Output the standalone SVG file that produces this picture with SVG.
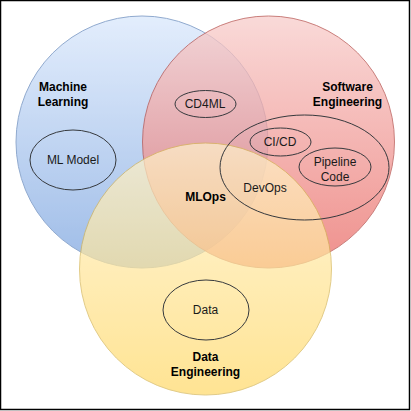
<svg xmlns="http://www.w3.org/2000/svg" width="411" height="411" viewBox="0 0 411 411">
<defs>
<linearGradient id="gBlue" x1="0" y1="0" x2="0" y2="1"><stop offset="0" stop-color="#dae8fc"/><stop offset="1" stop-color="#7ea6e0"/></linearGradient>
<linearGradient id="gRed" x1="0" y1="0" x2="0" y2="1"><stop offset="0" stop-color="#f8cecc"/><stop offset="1" stop-color="#ea6b66"/></linearGradient>
<linearGradient id="gYel" x1="0" y1="0" x2="0" y2="1"><stop offset="0" stop-color="#fff2cc"/><stop offset="1" stop-color="#ffd966"/></linearGradient>
<style>
text{font-family:"Liberation Sans",Arial,Helvetica,sans-serif;font-size:12px;text-anchor:middle;fill:#000}
.b{font-weight:bold}
.inner{fill:none;stroke:#36393d;stroke-width:1}
.in{fill:#1a1a1a}
</style>
</defs>
<rect x="0.5" y="0.5" width="409" height="409" fill="#fff" stroke="#000" stroke-width="1.5"/>
<g id="ml-circle"><circle cx="142" cy="142" r="126" fill="url(#gBlue)" stroke="#6c8ebf" opacity="0.75"/></g>
<g id="se-circle"><circle cx="268.5" cy="142" r="126" fill="url(#gRed)" stroke="#b85450" opacity="0.75"/></g>
<g id="de-circle"><circle cx="205.5" cy="269" r="126" fill="url(#gYel)" stroke="#d6b656" opacity="0.7"/></g>
<g id="ml-label"><text class="b" x="63" y="91">Machine</text><text class="b" x="63" y="106">Learning</text></g>
<g id="se-label"><text class="b" x="347.5" y="91">Software</text><text class="b" x="347.5" y="106">Engineering</text></g>
<g id="de-label"><text class="b" x="205.5" y="361">Data</text><text class="b" x="205.5" y="376">Engineering</text></g>
<g id="mlops"><text class="b" x="205.5" y="201">MLOps</text></g>
<g id="ml-model"><ellipse class="inner" cx="73" cy="160" rx="43" ry="30"/><text class="in" x="73" y="164">ML Model</text></g>
<g id="cd4ml"><ellipse class="inner" cx="205.5" cy="104" rx="30.5" ry="13.5"/><text class="in" x="205" y="108">CD4ML</text></g>
<g id="devops"><ellipse class="inner" cx="304.5" cy="167.5" rx="84.5" ry="52.5"/><text class="in" x="265" y="192">DevOps</text></g>
<g id="cicd"><ellipse class="inner" cx="280.5" cy="142" rx="30.5" ry="14"/><text class="in" x="280" y="146">CI/CD</text></g>
<g id="pipeline"><ellipse class="inner" cx="335" cy="167" rx="36" ry="19"/><text class="in" x="335" y="166">Pipeline</text><text class="in" x="335" y="181">Code</text></g>
<g id="data"><ellipse class="inner" cx="206" cy="310" rx="43" ry="30"/><text class="in" x="205.5" y="314">Data</text></g>
<g id="connectors"></g>
</svg>
